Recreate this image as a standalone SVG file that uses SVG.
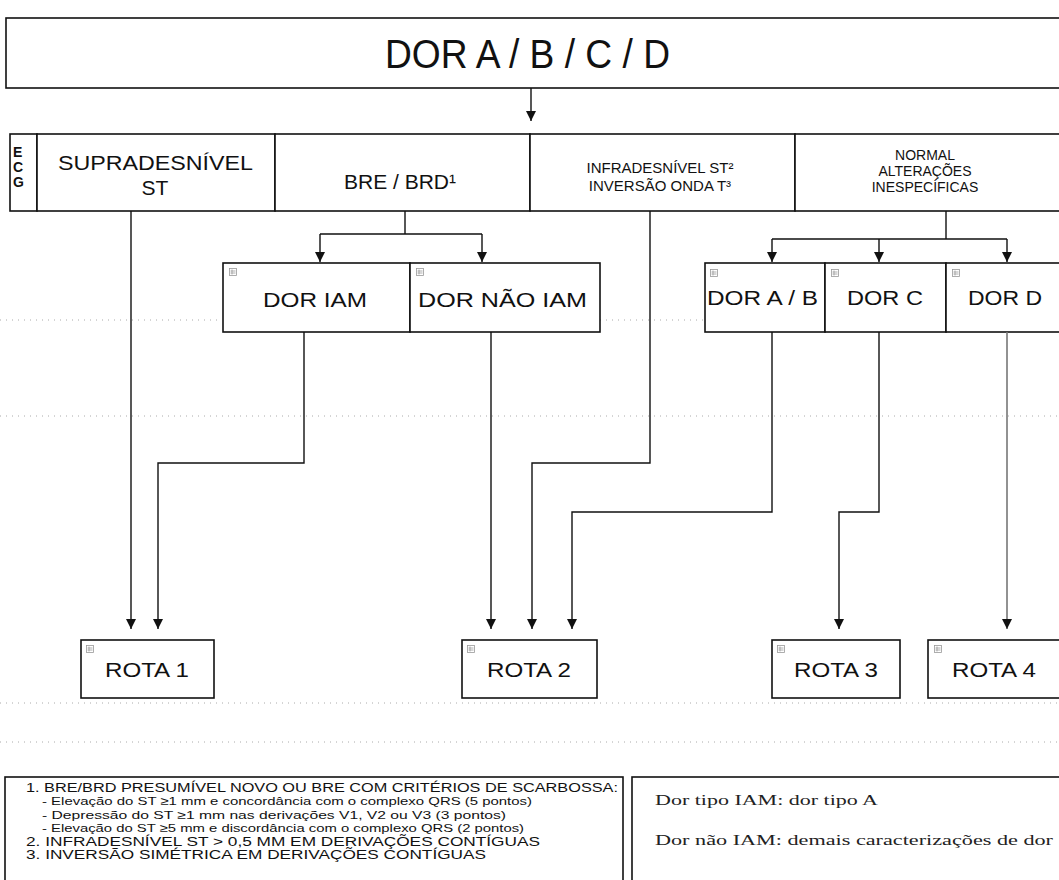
<svg xmlns="http://www.w3.org/2000/svg" width="1059" height="880" viewBox="0 0 1059 880">
<defs>
<style>
.bx{fill:#fff;stroke:#111;stroke-width:1.6}
.cn{fill:none;stroke:#111;stroke-width:1.4}
.cg{fill:none;stroke:#777;stroke-width:1.6}
.t{font-family:"Liberation Sans",Arial,sans-serif;fill:#111}
.s{font-family:"Liberation Serif","Times New Roman",serif;fill:#222}
.dot{fill:none;stroke:#aaa;stroke-width:1;stroke-dasharray:1 5}
.ic{fill:none;stroke:#999;stroke-width:0.8}
</style>
<marker id="ah" markerUnits="userSpaceOnUse" markerWidth="10" markerHeight="10" viewBox="0 0 10 10" refX="10" refY="5" orient="auto">
<path d="M0,0 L10,5 L0,10 z" fill="#111"/>
</marker>
<symbol id="ico" viewBox="0 0 8 8" width="8" height="8">
<rect x="0.5" y="0.5" width="7" height="7" class="ic"/>
<path d="M1.5,3 H6.5 M1.5,5 H6.5 M3,1.5 V6.5" class="ic"/>
</symbol>
</defs>
<rect width="1059" height="880" fill="#fff"/>

<g id="noise">
<path class="dot" d="M0,320 H220 M600,320 H705 M0,416 H1059 M0,703 H1059 M0,742 H1059"/>
</g>

<g id="top">
<rect class="bx" x="6" y="18" width="1060" height="70"/>
<text class="t" x="385" y="68" font-size="40" textLength="285" lengthAdjust="spacingAndGlyphs">DOR A / B / C / D</text>
</g>

<g id="ecg">
<rect class="bx" x="10" y="134" width="27" height="77"/>
<text class="t" x="13" y="157" font-size="14" font-weight="bold">E</text>
<text class="t" x="13" y="172" font-size="14" font-weight="bold">C</text>
<text class="t" x="13" y="187" font-size="14" font-weight="bold">G</text>
</g>
<g id="supra">
<rect class="bx" x="37" y="134" width="238" height="77"/>
<text class="t" x="58" y="170" font-size="21" textLength="195" lengthAdjust="spacingAndGlyphs">SUPRADESNÍVEL</text>
<text class="t" x="155" y="195" font-size="21" text-anchor="middle">ST</text>
</g>
<g id="bre">
<rect class="bx" x="275" y="134" width="255" height="77"/>
<text class="t" x="400" y="189" font-size="21" text-anchor="middle">BRE / BRD¹</text>
</g>
<g id="infra">
<rect class="bx" x="530" y="134" width="265" height="77"/>
<text class="t" x="660" y="173" font-size="15" text-anchor="middle">INFRADESNÍVEL ST²</text>
<text class="t" x="660" y="191" font-size="15" text-anchor="middle">INVERSÃO ONDA T³</text>
</g>
<g id="normal">
<rect class="bx" x="795" y="134" width="271" height="77"/>
<text class="t" x="925" y="160" font-size="14" text-anchor="middle">NORMAL</text>
<text class="t" x="925" y="176" font-size="14" text-anchor="middle">ALTERAÇÕES</text>
<text class="t" x="925" y="192" font-size="14" text-anchor="middle">INESPECÍFICAS</text>
</g>

<g id="doriam">
<rect class="bx" x="223" y="263" width="187" height="69"/>
<use href="#ico" x="229" y="268"/>
<text class="t" x="263" y="307" font-size="20" textLength="104" lengthAdjust="spacingAndGlyphs">DOR IAM</text>
</g>
<g id="dornaoiam">
<rect class="bx" x="410" y="263" width="190" height="69"/>
<use href="#ico" x="416" y="268"/>
<text class="t" x="418" y="307" font-size="20" textLength="169" lengthAdjust="spacingAndGlyphs">DOR NÃO IAM</text>
</g>
<g id="dorab">
<rect class="bx" x="705" y="263" width="120" height="69"/>
<use href="#ico" x="710" y="269"/>
<text class="t" x="707" y="305" font-size="20" textLength="111" lengthAdjust="spacingAndGlyphs">DOR A / B</text>
</g>
<g id="dorc">
<rect class="bx" x="825" y="263" width="121" height="69"/>
<use href="#ico" x="831" y="269"/>
<text class="t" x="847" y="305" font-size="20" textLength="76" lengthAdjust="spacingAndGlyphs">DOR C</text>
</g>
<g id="dord">
<rect class="bx" x="946" y="263" width="120" height="69"/>
<use href="#ico" x="952" y="269"/>
<text class="t" x="968" y="305" font-size="20" textLength="74" lengthAdjust="spacingAndGlyphs">DOR D</text>
</g>

<g id="rota1">
<rect class="bx" x="81" y="640" width="133" height="58"/>
<use href="#ico" x="86" y="645"/>
<text class="t" x="105" y="677" font-size="20" textLength="84" lengthAdjust="spacingAndGlyphs">ROTA 1</text>
</g>
<g id="rota2">
<rect class="bx" x="462" y="640" width="135" height="58"/>
<use href="#ico" x="467" y="645"/>
<text class="t" x="487" y="677" font-size="20" textLength="84" lengthAdjust="spacingAndGlyphs">ROTA 2</text>
</g>
<g id="rota3">
<rect class="bx" x="772" y="640" width="128" height="58"/>
<use href="#ico" x="777" y="645"/>
<text class="t" x="794" y="677" font-size="20" textLength="84" lengthAdjust="spacingAndGlyphs">ROTA 3</text>
</g>
<g id="rota4">
<rect class="bx" x="928" y="640" width="138" height="58"/>
<use href="#ico" x="934" y="645"/>
<text class="t" x="952" y="677" font-size="20" textLength="84" lengthAdjust="spacingAndGlyphs">ROTA 4</text>
</g>

<g id="connectors">
<path class="cn" d="M531,88 V121" marker-end="url(#ah)"/>
<path class="cn" d="M131,211 V629" marker-end="url(#ah)"/>
<path class="cn" d="M405,211 V234 M320,234 H482"/>
<path class="cn" d="M320,234 V262" marker-end="url(#ah)"/>
<path class="cn" d="M482,234 V262" marker-end="url(#ah)"/>
<path class="cn" d="M304,332 V463 H158 V629" marker-end="url(#ah)"/>
<path class="cn" d="M491,332 V629" marker-end="url(#ah)"/>
<path class="cn" d="M650,211 V463 H532 V629" marker-end="url(#ah)"/>
<path class="cn" d="M946,211 V239 M772,239 H1007"/>
<path class="cn" d="M772,239 V262" marker-end="url(#ah)"/>
<path class="cn" d="M879,239 V262" marker-end="url(#ah)"/>
<path class="cn" d="M1007,239 V262" marker-end="url(#ah)"/>
<path class="cn" d="M772,332 V512 H572 V629" marker-end="url(#ah)"/>
<path class="cn" d="M879,332 V512 H839 V629" marker-end="url(#ah)"/>
<path class="cg" d="M1007,332 V629" marker-end="url(#ah)"/>
</g>

<g id="notes">
<rect class="bx" x="5" y="777" width="618" height="110"/>
<text class="t" x="26" y="792" font-size="12" textLength="592" lengthAdjust="spacingAndGlyphs">1. BRE/BRD PRESUMÍVEL NOVO OU BRE COM CRITÉRIOS DE SCARBOSSA:</text>
<text class="t" x="42" y="805" font-size="11.5" textLength="490" lengthAdjust="spacingAndGlyphs">- Elevação do ST ≥1 mm e concordância com o complexo QRS (5 pontos)</text>
<text class="t" x="42" y="819" font-size="11.5" textLength="464" lengthAdjust="spacingAndGlyphs">- Depressão do ST ≥1 mm nas derivações V1, V2 ou V3 (3 pontos)</text>
<text class="t" x="42" y="832" font-size="11.5" textLength="482" lengthAdjust="spacingAndGlyphs">- Elevação do ST ≥5 mm e discordância com o complexo QRS (2 pontos)</text>
<text class="t" x="26" y="846" font-size="12" textLength="514" lengthAdjust="spacingAndGlyphs">2. INFRADESNÍVEL ST &gt; 0,5 MM  EM DERIVAÇÕES CONTÍGUAS</text>
<text class="t" x="26" y="859" font-size="12" textLength="460" lengthAdjust="spacingAndGlyphs">3. INVERSÃO SIMÉTRICA EM DERIVAÇÕES CONTÍGUAS</text>
</g>
<g id="legend">
<rect class="bx" x="632" y="777" width="434" height="110"/>
<text class="s" x="655" y="805" font-size="15" textLength="223" lengthAdjust="spacingAndGlyphs">Dor tipo IAM: dor tipo A</text>
<text class="s" x="655" y="845" font-size="15" textLength="398" lengthAdjust="spacingAndGlyphs">Dor não IAM: demais caracterizações de dor</text>
</g>
</svg>
